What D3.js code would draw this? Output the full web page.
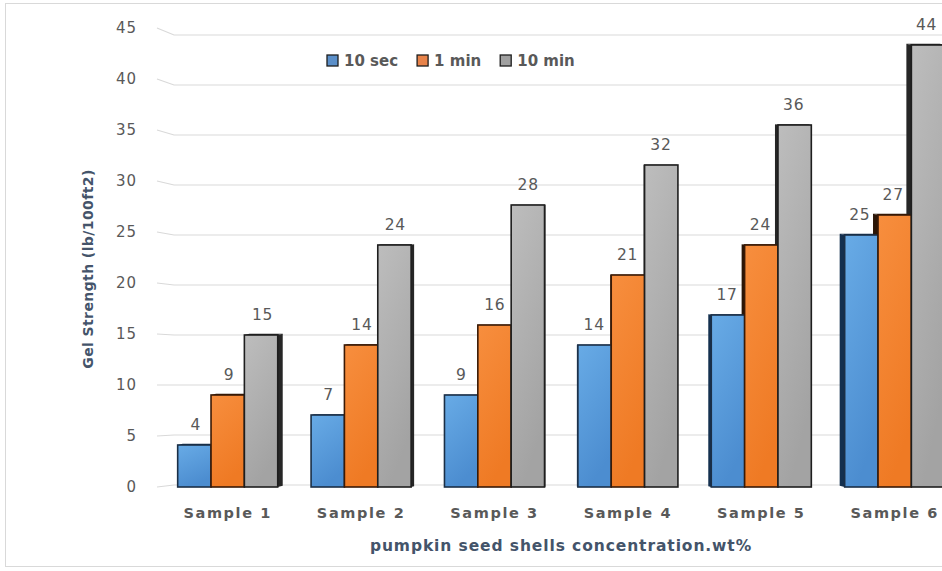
<!DOCTYPE html>
<html>
<head>
<meta charset="utf-8">
<script src="https://cdn.jsdelivr.net/npm/d3@7"></script>
<style>
  html, body { margin: 0; padding: 0; background: #ffffff; }
  svg { display: block; }
</style>
</head>
<body>
<svg id="chart" width="942" height="571"></svg>
<script>
// ---- data ----
const categories = ["Sample 1", "Sample 2", "Sample 3", "Sample 4", "Sample 5", "Sample 6"];
const seriesNames = ["10 sec", "1 min", "10 min"];
const sec10 = [4, 7, 9, 14, 17, 25];
const min1 = [9, 14, 16, 21, 24, 27];
const min10 = [15, 24, 28, 32, 36, 44];
const yTicks = [0, 5, 10, 15, 20, 25, 30, 35, 40, 45];
const yTitle = "Gel Strength (lb/100ft2)";
const xTitle = "pumpkin seed shells concentration.wt%";

// ---- styles ----
const seriesValues = [sec10, min1, min10];
const frontTop = ["#68abe6", "#f78e3e", "#bdbdbd"];
const frontBot = ["#4c8dd0", "#ef7a24", "#a3a3a3"];
const sideCol = ["#14304f", "#2b1607", "#262626"];
const strokeCol = ["#1b2f46", "#3a1a06", "#1e1e1e"];
const legendFill = ["#5b8fc9", "#e8834a", "#a0a0a0"];
const textGray = "#595959";
const titleCol = "#44546a";
const FONT = "'DejaVu Sans', Verdana, sans-serif";

const svg = d3.select("#chart");
const W = 942, H = 571;

// chart border
svg.append("rect").attr("x", 5.5).attr("y", 3.5).attr("width", W).attr("height", 563)
  .attr("fill", "#fff").attr("stroke", "#d9d9d9").attr("stroke-width", 1);

const defs = svg.append("defs");
seriesNames.forEach((s, i) => {
  const g = defs.append("linearGradient").attr("id", "grad" + i)
    .attr("x1", 0).attr("y1", 0).attr("x2", 0.35).attr("y2", 1);
  g.append("stop").attr("offset", "0%").attr("stop-color", frontTop[i]);
  g.append("stop").attr("offset", "100%").attr("stop-color", frontBot[i]);
});

// scales
const y = d3.scaleLinear().domain([0, 45]).range([485, 35]);
const yLab = d3.scaleLinear().domain([0, 45]).range([487, 28]);
const x = d3.scaleBand().domain(categories).range([161, 961.4]).paddingInner(0.25).paddingOuter(0.125);
const xs = d3.scaleBand().domain(seriesNames).range([0, x.bandwidth()]).padding(0);

// gridlines with small side-wall diagonal
const grid = svg.append("g");
yTicks.forEach(v => {
  grid.append("path")
    .attr("d", `M157,${yLab(v)} L174,${y(v)} L${W},${y(v)}`)
    .attr("fill", "none").attr("stroke", "#d9d9d9").attr("stroke-width", 1.2);
});

// y tick labels
svg.append("g").selectAll("text").data(yTicks).join("text")
  .attr("x", 137).attr("y", d => yLab(d)).attr("dy", "0.36em")
  .attr("text-anchor", "end").attr("font-family", FONT).attr("font-size", 15)
  .attr("letter-spacing", 1).attr("fill", textGray).text(d => d);

// bars
const vpX = 561, k = 0.015;
const bars = svg.append("g");
const labels = [];
categories.forEach((c, ci) => {
  const cx = x(c) + x.bandwidth() / 2;
  const d = (vpX - cx) * k;
  const dy = Math.abs(d) * 0.25;
  const g = bars.append("g");
  const items = seriesNames.map((s, si) => {
    const x0 = x(c) + xs(s), x1 = x0 + xs.bandwidth();
    const top = y(seriesValues[si][ci]), bot = y(0) + 2;
    return { si, x0, x1, top, bot, v: seriesValues[si][ci] };
  });
  // side + top faces
  items.forEach(b => {
    const ex = d > 0 ? b.x1 : b.x0;
    g.append("path")
      .attr("d", `M${ex},${b.top} L${ex + d},${b.top - dy} L${ex + d},${b.bot - dy} L${ex},${b.bot} Z`)
      .attr("fill", sideCol[b.si]);
    g.append("path")
      .attr("d", `M${b.x0},${b.top} L${b.x0 + d},${b.top - dy} L${b.x1 + d},${b.top - dy} L${b.x1},${b.top} Z`)
      .attr("fill", sideCol[b.si]);
  });
  // front faces
  items.forEach(b => {
    g.append("rect").attr("x", b.x0).attr("y", b.top)
      .attr("width", b.x1 - b.x0).attr("height", b.bot - b.top)
      .attr("fill", `url(#grad${b.si})`).attr("stroke", strokeCol[b.si]).attr("stroke-width", 1.6);
    labels.push({ x: (b.x0 + b.x1) / 2 + d * 0.3, y: b.top - 15, v: b.v });
  });
});

// value labels
svg.append("g").selectAll("text").data(labels).join("text")
  .attr("x", d => d.x).attr("y", d => d.y).attr("text-anchor", "middle")
  .attr("font-family", FONT).attr("font-size", 15.5).attr("letter-spacing", 0.8)
  .attr("fill", textGray).text(d => d.v);

// category labels
svg.append("g").selectAll("text").data(categories).join("text")
  .attr("x", d => x(d) + x.bandwidth() / 2).attr("y", 518).attr("text-anchor", "middle")
  .attr("font-family", FONT).attr("font-size", 14.5).attr("font-weight", "bold")
  .attr("letter-spacing", 1.6).attr("fill", textGray).text(d => d);

// axis titles
svg.append("text").attr("x", 561).attr("y", 551).attr("text-anchor", "middle")
  .attr("font-family", FONT).attr("font-size", 15.5).attr("font-weight", "bold")
  .attr("letter-spacing", 0.9).attr("fill", titleCol).text(xTitle);

svg.append("text").attr("transform", "translate(93,269) rotate(-90)").attr("text-anchor", "middle")
  .attr("font-family", FONT).attr("font-size", 14).attr("font-weight", "bold")
  .attr("letter-spacing", 0.4).attr("fill", titleCol).text(yTitle);

// legend
const leg = svg.append("g");
let lx = 327;
seriesNames.forEach((s, i) => {
  leg.append("rect").attr("x", lx).attr("y", 55).attr("width", 11).attr("height", 11)
    .attr("fill", legendFill[i]).attr("stroke", "#1e1e1e").attr("stroke-width", 1.3);
  const t = leg.append("text").attr("x", lx + 17).attr("y", 66)
    .attr("font-family", FONT).attr("font-size", 15).attr("font-weight", "bold")
    .attr("fill", textGray).text(s);
  lx = lx + 17 + t.node().getComputedTextLength() + 19;
});
</script>
</body>
</html>
